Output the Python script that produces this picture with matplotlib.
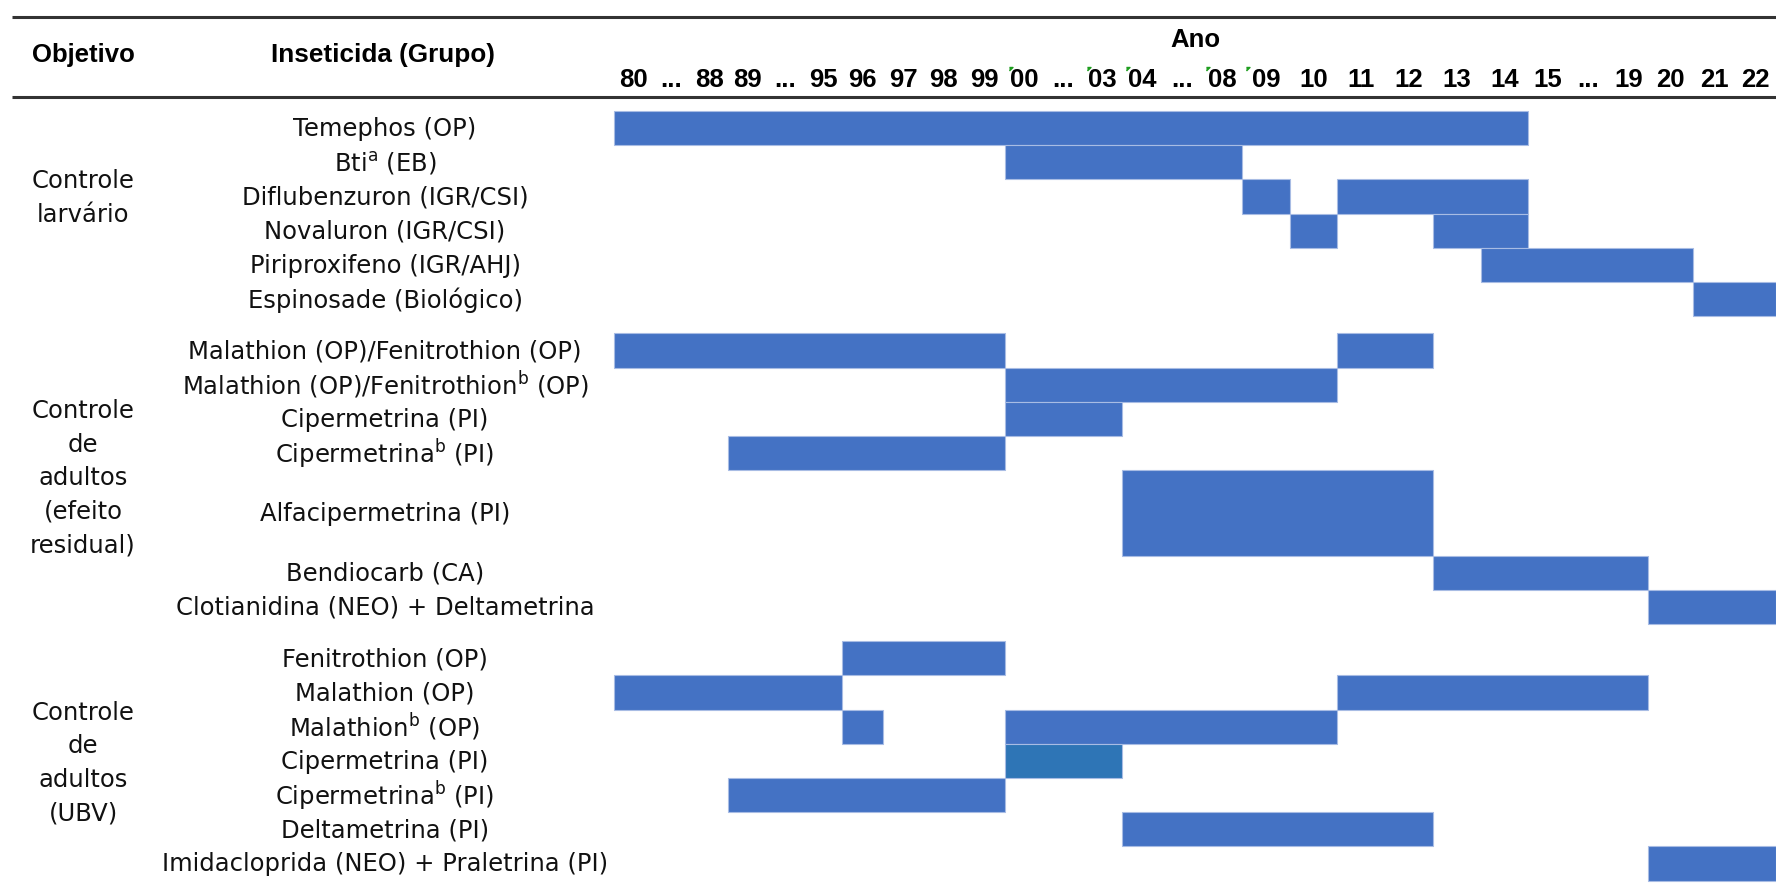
import numpy as np
import matplotlib.pyplot as plt

# colunas do cabecalho (anos)
col_keys = ['80', '80-88', '88', '89', '89-95', '95', '96', '97', '98', '99',
            '00', '00-03', '03', '04', '04-08', '08', '09', '10', '11', '12',
            '13', '14', '15', '15-19', '19', '20', '21', '22']
col_labels = ['80', '...', '88', '89', '...', '95', '96', '97', '98', '99',
              '00', '...', '03', '04', '...', '08', '09', '10', '11', '12',
              '13', '14', '15', '...', '19', '20', '21', '22']
text_cols = ['00', '03', '04', '08', '09']   # celulas com o triangulo verde

# objetivos e inseticidas
objetivos = ['Controle\nlarvário',
             'Controle\nde\nadultos\n(efeito\nresidual)',
             'Controle\nde\nadultos\n(UBV)']

inseticidas = [
    'Temephos (OP)', r'Bti$^{\mathrm{a}}$ (EB)', 'Diflubenzuron (IGR/CSI)',
    'Novaluron (IGR/CSI)', 'Piriproxifeno (IGR/AHJ)', 'Espinosade (Biológico)',
    'Malathion (OP)/Fenitrothion (OP)', r'Malathion (OP)/Fenitrothion$^{\mathrm{b}}$ (OP)',
    'Cipermetrina (PI)', r'Cipermetrina$^{\mathrm{b}}$ (PI)', 'Alfacipermetrina (PI)',
    'Bendiocarb (CA)', 'Clotianidina (NEO) + Deltametrina',
    'Fenitrothion (OP)', 'Malathion (OP)', r'Malathion$^{\mathrm{b}}$ (OP)',
    'Cipermetrina (PI)', r'Cipermetrina$^{\mathrm{b}}$ (PI)', 'Deltametrina (PI)',
    'Imidacloprida (NEO) + Praletrina (PI)']
grupo = [0]*6 + [1]*7 + [2]*7
altura = [1]*10 + [2.5] + [1]*9

# periodos de uso: (linha, inicio, fim)
periodos = [
    (0, '80', '14'),
    (1, '00', '08'),
    (2, '09', '09'), (2, '11', '14'),
    (3, '10', '10'), (3, '13', '14'),
    (4, '14', '20'),
    (5, '21', '22'),
    (6, '80', '99'), (6, '11', '12'),
    (7, '00', '10'),
    (8, '00', '03'),
    (9, '89', '99'),
    (10, '04', '12'),
    (11, '13', '19'),
    (12, '20', '22'),
    (13, '96', '99'),
    (14, '80', '95'), (14, '11', '19'),
    (15, '96', '96'), (15, '00', '10'),
    (16, '00', '03'),
    (17, '89', '99'),
    (18, '04', '12'),
    (19, '20', '22'),
]
destaque = [(16, '00', '03')]   # celula com azul mais escuro

# layout (pixels)
col_w = [38]*6 + [40.75]*4 + [39]*3 + [40]*3 + [47.7]*6 + [40]*3 + [45] + [41.5]*2
x0 = 614
row_h = 34.2
top0 = 111
gap = 0.5

edges = x0 + np.concatenate([[0], np.cumsum(col_w)])
col_idx = {k: i for i, k in enumerate(col_keys)}

# posicao vertical das linhas
tops = []
y = 0.0
for i, h in enumerate(altura):
    if i > 0 and grupo[i] != grupo[i-1]:
        y += gap
    tops.append(top0 + y*row_h)
    y += h
tops = np.array(tops)
hs = np.array(altura)*row_h
centers = tops + hs/2

fig = plt.figure(figsize=(17.76, 8.92), dpi=100)
ax = fig.add_axes([0, 0, 1, 1])
ax.set_xlim(0, 1776)
ax.set_ylim(892, 0)
ax.axis('off')

for r, a, b in periodos:
    left = edges[col_idx[a]]
    right = edges[col_idx[b] + 1]
    cor = '#2E75B6' if (r, a, b) in destaque else '#4472C4'
    ax.barh(centers[r], right - left, left=left, height=hs[r], color=cor,
            edgecolor='#A8BCE4', linewidth=0.8)

body = dict(family='DejaVu Sans', fontsize=17.5, color='#111111')
for i, nome in enumerate(inseticidas):
    ax.text(385, centers[i] + 1, nome, ha='center', va='center', **body)

obj_y = [198, 478, 763]
for t, yy in zip(objetivos, obj_y):
    ax.text(83, yy, t, ha='center', va='center', linespacing=1.5, **body)

head = dict(family='Liberation Sans', fontweight='bold', color='black')
ax.text(83, 55, 'Objetivo', ha='center', va='center', fontsize=18.5, **head)
ax.text(383, 55, 'Inseticida (Grupo)', ha='center', va='center', fontsize=18.8, **head)
ax.text(1195, 40, 'Ano', ha='center', va='center', fontsize=18.5, **head)
for i, lab in enumerate(col_labels):
    xc = (edges[i] + edges[i+1])/2
    ax.text(xc, 80, lab, ha='center', va='center', fontsize=18.5, **head)
    if col_keys[i] in text_cols:
        ax.plot(edges[i] + 4, 67, marker=[(0, 0), (1, 0), (0, -1)],
                markersize=5, color='#1E9E1E', linestyle='none')

ax.plot([12, 1776], [17, 17], color='#333333', lw=2.2, solid_capstyle='butt')
ax.plot([12, 1776], [97, 97], color='#333333', lw=2.2, solid_capstyle='butt')

fig.savefig('out.png', dpi=100)
